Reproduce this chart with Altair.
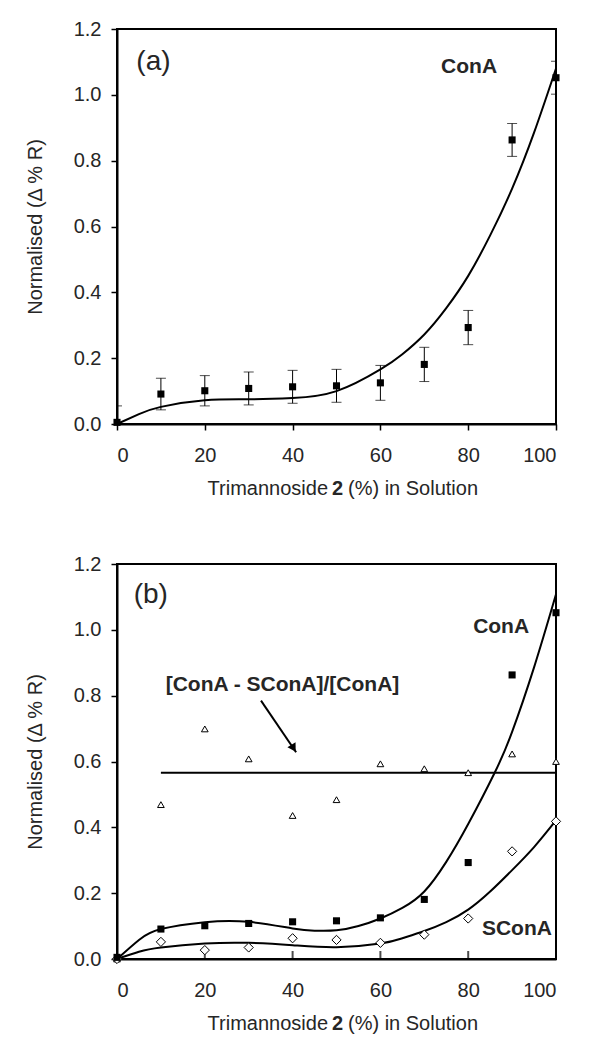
import altair as alt
import pandas as pd

# ---- data ----
x_pct = [0, 10, 20, 30, 40, 50, 60, 70, 80, 90, 100]
cona = [0.005, 0.091, 0.101, 0.108, 0.113, 0.116, 0.125, 0.181, 0.293, 0.863, 1.052]
cona_err = [0.05, 0.048, 0.046, 0.05, 0.05, 0.05, 0.053, 0.052, 0.052, 0.05, 0.05]
scona = [0.0, 0.052, 0.027, 0.035, 0.063, 0.058, 0.049, 0.074, 0.123, 0.327, 0.418]
ratio = [0.0, 0.469, 0.699, 0.608, 0.436, 0.484, 0.593, 0.578, 0.566, 0.623, 0.600]

# trend lines
fit_a_x = [0, 5, 10, 20, 30, 40, 50, 60, 65, 70, 75, 80, 85, 90, 95, 100]
fit_a_y = [0.0, 0.03, 0.052, 0.072, 0.075, 0.079, 0.10, 0.166, 0.212, 0.272, 0.352, 0.45, 0.573,
           0.715, 0.885, 1.08]
fit_b_cona_x = [0, 5, 10, 20, 30, 40, 45, 50, 55, 60, 65, 70, 75, 80, 86, 90, 95, 100]
fit_b_cona_y = [0.0, 0.058, 0.091, 0.112, 0.113, 0.093, 0.086, 0.087, 0.10, 0.123, 0.155, 0.205,
                0.295, 0.41, 0.565, 0.69, 0.886, 1.108]
fit_b_scona_x = [0, 5, 10, 20, 30, 40, 50, 60, 65, 70, 75, 80, 85, 90, 95, 100]
fit_b_scona_y = [0.0, 0.022, 0.035, 0.047, 0.049, 0.042, 0.036, 0.047, 0.063, 0.085, 0.112, 0.15,
                 0.205, 0.27, 0.34, 0.421]

x_ticks = [0, 20, 40, 60, 80, 100]
y_ticks = [0.0, 0.2, 0.4, 0.6, 0.8, 1.0, 1.2]
inner_x_ticks = [20, 40, 60, 80]

labels_a_text = ["(a)"]
labels_a_x = [8.3]
labels_a_y = [1.10]
bold_a_text = ["ConA"]
bold_a_x = [80.2]
bold_a_y = [1.085]

labels_b_text = ["(b)"]
labels_b_x = [7.7]
labels_b_y = [1.106]
bold_b_text = ["ConA", "SConA", "[ConA - SConA]/[ConA]"]
bold_b_x = [87.5, 91.1, 37.7]
bold_b_y = [1.009, 0.091, 0.833]

arrow_x = [32.8]
arrow_y = [0.785]
arrow_x2 = [40.8]
arrow_y2 = [0.628]

W, H = 439, 395
FONT = "Liberation Sans"
TXT = "#262626"

df = pd.DataFrame({"x": x_pct, "y": cona, "e": cona_err})
df_s = pd.DataFrame({"x": x_pct, "y": scona})
df_r = pd.DataFrame({"x": x_pct, "y": ratio})

xscale = alt.Scale(domain=[0, 100], nice=False, zero=False)
yscale = alt.Scale(domain=[0, 1.2], nice=False)


def X(field="x", inner=False):
    return alt.X(f"{field}:Q", scale=xscale,
                 axis=alt.Axis(values=x_ticks, title=None, grid=False, format="d",
                               tickSize=6, labelPadding=15,
                               tickOpacity=0 if inner else 1))


def Y(field="y"):
    return alt.Y(f"{field}:Q", scale=yscale,
                 axis=alt.Axis(values=y_ticks, title="Normalised (\u0394 % R)", grid=False,
                               format=".1f", tickSize=6, labelPadding=10,
                               titlePadding=28))


def xtitle():
    t1 = alt.Chart(pd.DataFrame({"t": ["Trimannoside"]})).mark_text(
        align="right", baseline="middle", fontSize=20, font=FONT, color=TXT
    ).encode(text="t:N", x=alt.value(211), y=alt.value(H + 65))
    t2 = alt.Chart(pd.DataFrame({"t": ["2"]})).mark_text(
        align="center", baseline="middle", fontSize=20, font=FONT, color=TXT, fontWeight="bold"
    ).encode(text="t:N", x=alt.value(220.5), y=alt.value(H + 65))
    t3 = alt.Chart(pd.DataFrame({"t": ["(%) in Solution"]})).mark_text(
        align="left", baseline="middle", fontSize=20, font=FONT, color=TXT
    ).encode(text="t:N", x=alt.value(231), y=alt.value(H + 65))
    return [t1, t2, t3]


def trend(xs, ys, inner=False):
    return alt.Chart(pd.DataFrame({"x": xs, "y": ys})).mark_line(
        color="black", strokeWidth=2, interpolate="natural").encode(
        x=X(inner=inner), y=Y(), order="x:Q")


# ---------------- panel (a) ----------------
base_a = alt.Chart(df)
fit_a = trend(fit_a_x, fit_a_y)
err_a = base_a.transform_calculate(lo="datum.y - datum.e", hi="datum.y + datum.e").mark_rule(
    color="black", strokeWidth=1, clip=True).encode(x=X(), y=Y("lo"), y2="hi:Q")
cap_lo = base_a.transform_calculate(lo="datum.y - datum.e").mark_tick(
    orient="horizontal", size=10, thickness=1, color="black", clip=True).encode(x=X(), y=Y("lo"))
cap_hi = base_a.transform_calculate(hi="datum.y + datum.e").mark_tick(
    orient="horizontal", size=10, thickness=1, color="black", clip=True).encode(x=X(), y=Y("hi"))
pts_a = base_a.mark_point(shape="square", filled=True, size=50, color="black", opacity=1).encode(
    x=X(), y=Y())
txt_a = alt.Chart(pd.DataFrame({"x": labels_a_x, "y": labels_a_y, "t": labels_a_text})).mark_text(
    fontSize=28, font=FONT, color=TXT, baseline="middle", align="center").encode(
    x=X(), y=Y(), text="t:N")
btxt_a = alt.Chart(pd.DataFrame({"x": bold_a_x, "y": bold_a_y, "t": bold_a_text})).mark_text(
    fontSize=21, font=FONT, color=TXT, fontWeight="bold", baseline="middle", align="center").encode(
    x=X(), y=Y(), text="t:N")

panel_a = alt.layer(fit_a, err_a, cap_lo, cap_hi, pts_a, txt_a, btxt_a, *xtitle()).properties(
    width=W, height=H)

# ---------------- panel (b) ----------------
curve_b1 = trend(fit_b_cona_x, fit_b_cona_y, inner=True)
curve_b2 = trend(fit_b_scona_x, fit_b_scona_y, inner=True)
mean_rule = alt.Chart(df_r).transform_filter("datum.x > 0").transform_aggregate(
    m="mean(y)", x0="min(x)", x1="max(x)").mark_rule(color="black", strokeWidth=2).encode(
    x=X("x0", inner=True), x2="x1:Q", y=Y("m"))
pts_b1 = alt.Chart(df).mark_point(shape="square", filled=True, size=50, color="black",
                                  opacity=1).encode(x=X(inner=True), y=Y())
pts_b2 = alt.Chart(df_s).mark_point(shape="diamond", filled=True, size=85, fill="white",
                                    stroke="black", strokeWidth=1, opacity=1).encode(
    x=X(inner=True), y=Y())
pts_b3 = alt.Chart(df_r).mark_point(shape="triangle-up", filled=True, size=45, fill="white",
                                    stroke="black", strokeWidth=1, opacity=1).encode(
    x=X(inner=True), y=Y())
inner = alt.Chart(pd.DataFrame({"x": inner_x_ticks, "y": [0] * len(inner_x_ticks)})).mark_tick(
    orient="vertical", size=8, thickness=2, color="black", yOffset=-4).encode(
    x=X(inner=True), y=Y())
arrow_line = alt.Chart(pd.DataFrame({"x": arrow_x, "y": arrow_y, "x2": arrow_x2, "y2": arrow_y2})).mark_rule(
    color="black", strokeWidth=2).encode(x=X(inner=True), y=Y(), x2="x2:Q", y2="y2:Q")
arrow_head = alt.Chart(pd.DataFrame({"x": arrow_x2, "y": arrow_y2})).mark_point(
    shape="triangle-up", filled=True, size=90, color="black", opacity=1, angle=148.6,
    xOffset=-2.5, yOffset=-4).encode(x=X(inner=True), y=Y())
txt_b = alt.Chart(pd.DataFrame({"x": labels_b_x, "y": labels_b_y, "t": labels_b_text})).mark_text(
    fontSize=28, font=FONT, color=TXT, baseline="middle", align="center").encode(
    x=X(inner=True), y=Y(), text="t:N")
btxt_b = alt.Chart(pd.DataFrame({"x": bold_b_x, "y": bold_b_y, "t": bold_b_text})).mark_text(
    fontSize=21, font=FONT, color=TXT, fontWeight="bold", baseline="middle", align="center").encode(
    x=X(inner=True), y=Y(), text="t:N")

panel_b = alt.layer(curve_b1, curve_b2, mean_rule, inner, arrow_line, arrow_head,
                    pts_b3, pts_b2, pts_b1, txt_b, btxt_b, *xtitle()).properties(width=W, height=H)

chart = alt.vconcat(panel_a, panel_b, spacing=140, bounds="flush").properties(
    padding={"left": 16, "top": 10, "right": 5, "bottom": 5}
).configure(
    font=FONT, background="white"
).configure_view(
    stroke="black", strokeWidth=2
).configure_axis(
    domainColor="black", domainWidth=2, tickColor="black", tickWidth=1.5,
    labelFont=FONT, labelFontSize=20, labelColor=TXT,
    titleFont=FONT, titleFontSize=20, titleColor=TXT, titleFontWeight="normal"
)

chart.save("out.html", embed_options={"renderer": "svg", "actions": False})
